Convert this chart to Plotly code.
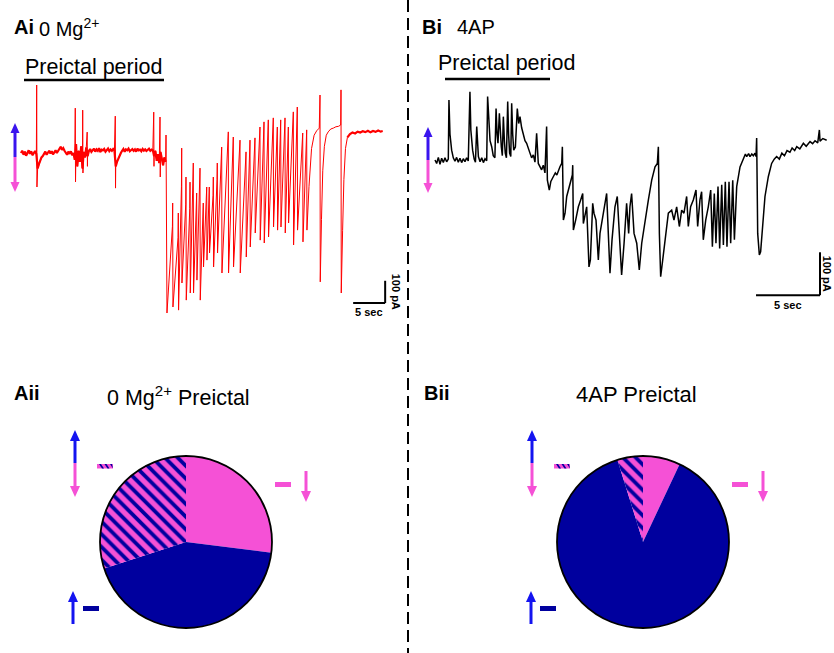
import plotly.graph_objects as go

W, H = 834, 653
def X(p): return p / W
def Y(p): return 1 - p / H

PINK = "#F551D6"
NAVY = "#00009E"
BLUE = "#1414F0"
ABLUE = "#3A14EE"
FONT = "Arial, Liberation Sans, sans-serif"

# ---------------- Ai : 0 Mg2+ recording (time s, current pA) ----------------
a_base_step = 0.2
a_base_pA = [0, 10, -8, 6, -12, 4, 12, -4, 8, -10, 2, 9, -5,
             -70, -50, -32, -20, -14,
             -5, 6, -8, 3, 10, -2, 8, -6, 5, 12, 0, 9,
             18, 28, 14, 22, 10,
             2, -8, 6, -4, 8, -10, 0,
             -30, 40, -60, 10, -40, 30, -70, 5, -20, 25, -15,
             8, 18, 5, 14, 20, 6, 16, 10, 22, 4, 15, 12, 18, 6, 14, 20, 8, 16, 10, 18, 12,
             -60, -40, -25, -10, 0,
             10, 18, 6, 16, 12, 20, 8, 14, 18, 10, 16, 6, 20, 12, 15, 8, 18, 11, 16, 9, 14, 19, 10, 15, 12,
             -15, 10, -35, -5, -45, 5, -25, -55, -20, -40]
a_spk_t = [2.45, 8.48, 9.64, 10.34, 14.73, 20.74, 21.72, 22.66]
a_spk_peak = [306, 202, 193, 94, 166, 184, 162, 81]
a_spk_trough = [-153, -130, -90, -60, -158, -60, -108, -110]

a_ev_t = [22.77, 23.70, 24.58, 25.11, 25.78, 26.41, 26.92, 27.45, 27.97, 28.48, 29.02,
          29.42, 30.05, 30.67, 31.36, 32.39, 33.17, 34.22, 35.16, 35.78, 36.56, 37.34,
          37.97, 38.64, 39.42, 40.05, 40.58, 41.25, 41.77, 42.55, 43.17, 44.02, 44.64]
a_ev_rest = [-40, -330, -380, -150, -230, -250, -180, -280, -200, -300, -240,
             -230, -190, -120, -40, 40, 20, 10, -40, 10, 25, 70,
             95, 100, 110, 80, 105, 110, 80, 130, 150, 60, 70]
a_ev_peak = [-10, -225, -270, 22, -108, -131, -45, -180, -68, -225, -153,
             -153, -108, -45, 27, 95, 72, 58, 5, 58, 68, 117,
             140, 149, 158, 117, 149, 158, 117, 185, 207, 90, 104]
a_ev_trough = [-720, -693, -707, -585, -662, -630, -630, -572, -662, -513, -482,
               -450, -513, -450, -540, -540, -513, -540, -468, -423, -360, -392,
               -405, -378, -333, -347, -333, -360, -315, -414, -347, -400, -347]

a_tail_t = [45.0, 45.4, 45.8, 46.2, 46.6, 46.72, 46.76, 46.95, 47.15, 47.4, 47.7, 48.0,
            48.4, 48.8, 49.2, 49.6, 49.95, 50.0, 50.04, 50.25, 50.45, 50.7, 51.0, 51.4,
            51.8, 52.2, 52.6, 53.0, 53.4, 53.8, 54.2, 54.6, 55.0, 55.4, 55.8, 56.2, 56.5]
a_tail_pA = [-150, 20, 80, 100, 112, 261, -580, -300, -80, 30, 80, 95,
             108, 112, 118, 120, 126, 284, -630, -350, -120, 20, 70, 85,
             92, 88, 96, 92, 98, 94, 100, 93, 99, 95, 101, 96, 99]

# ---------------- Bi : 4AP recording (time s, current pA) ----------------
b_t = [0.00, 0.13, 0.26, 0.39, 0.52, 0.65, 0.78, 0.91, 1.04,
       1.09, 1.17, 1.30, 1.43, 1.56, 1.69, 1.82, 1.95, 2.08, 2.21, 2.34, 2.47, 2.60,
       2.73, 2.80, 2.94, 3.06, 3.16,
       3.26, 3.39, 3.52, 3.65, 3.78, 3.91, 4.04,
       4.11, 4.20, 4.30, 4.43, 4.55, 4.68,
       4.77, 4.85, 4.92,
       5.03, 5.10, 5.18, 5.26,
       5.34, 5.42, 5.49, 5.58,
       5.68, 5.75, 5.83, 5.92,
       5.99, 6.07, 6.15, 6.28,
       6.43, 6.54, 6.64, 6.77, 6.90, 7.03, 7.16, 7.29, 7.42, 7.55, 7.68, 7.81,
       7.94, 8.07, 8.20, 8.33, 8.46, 8.59,
       8.72, 8.78, 8.93, 9.05, 9.24, 9.40, 9.52, 9.64, 9.77, 9.90, 9.95,
       10.03, 10.16, 10.29, 10.55, 10.73, 10.76, 10.81, 10.99, 11.20, 11.38,
       11.54, 11.59, 11.75, 11.85, 12.03, 12.14, 12.32, 12.42, 12.58, 12.76,
       12.89, 13.15, 13.41, 13.54, 13.67, 13.83, 14.06, 14.24, 14.40, 14.58,
       14.77, 14.97, 15.13, 15.23, 15.36, 15.55, 15.76, 15.96, 16.15, 16.41,
       16.67, 16.93, 17.19, 17.37, 17.45, 17.53, 17.63, 17.79, 17.97, 18.23,
       18.49, 18.67, 18.88, 19.09, 19.27, 19.45, 19.66, 19.79, 19.97, 20.18,
       20.39, 20.52, 20.70, 20.83, 20.96, 21.15, 21.35, 21.54, 21.67, 21.82,
       21.95, 22.11, 22.24, 22.40, 22.53, 22.68, 22.81, 22.97, 23.10, 23.26,
       23.39, 23.57, 23.83, 24.09, 24.25, 24.35, 24.50, 24.61, 24.75, 24.87,
       25.00, 25.08, 25.13, 25.21, 25.34, 25.44, 25.60, 25.78, 26.04, 26.30,
       26.50, 26.69, 26.90, 27.10, 27.30, 27.50, 27.73, 27.90, 28.10, 28.26,
       28.50, 28.78, 29.00, 29.30, 29.50, 29.69, 29.90, 30.03, 30.08, 30.30, 30.60]
b_pA = [0, -8, 6, -10, 4, -6, 5, -4, 2,
        140, 60, 23, 5, -3, 6, -5, 4, -6, 3, -4, 5, -2,
        159, 70, 23, 2, -5,
        78, 8, -4, 5, -6, 3, -2,
        148, 80, 45, 31, 10, 5,
        120, 60, 39,
        109, 55, 31, 10,
        101, 45, 16, 5,
        136, 60, 16, 8,
        132, 60, 23, 30,
        120, 85, 101, 75, 62, 45, 39, 25, 16, 5, 12, -5,
        62, -8, -15, -23, -12, -30,
        78, -47, -70, -50, -39, -30, -35, -23, -15, -8, 31,
        -140, -124, -85, -54, -35, -12, -163, -140, -109, -93,
        -78, -148, -124, -109, -249, -233, -101, -124, -140, -233,
        -171, -124, -78, -171, -264, -186, -109, -85, -171, -268,
        -194, -101, -171, -109, -78, -171, -194, -256, -194, -140,
        -93, -47, -16, -8, 31, -171, -272, -233, -186, -124,
        -117, -140, -109, -155, -117, -124, -85, -155, -109, -93,
        -70, -155, -93, -74, -186, -140, -109, -70, -202, -78,
        -194, -62, -206, -58, -198, -51, -202, -51, -194, -47,
        -186, -62, -16, 4, 14, 8, 15, 8, 14, 10,
        16, 8, 51, -171, -221, -214, -155, -85, -39, -8,
        2, 8, 2, 16, 10, 22, 18, 28, 22, 31,
        26, 39, 32, 43, 38, 45, 40, 70, 44, 50, 46]

# ---------------- Pie data (% of cells) ----------------
pie_labels = ["decrease", "increase", "increase & decrease"]
pieA_vals = [27, 43, 30]
pieB_vals = [7.0, 88.2, 4.8]

# scale bars
scale_sec = 5
scale_pA = 100

# ---------- assemble trace A ----------
base = [(i * a_base_step, v) for i, v in enumerate(a_base_pA)]
pre = list(base)
for t, p, tr in zip(a_spk_t, a_spk_peak, a_spk_trough):
    pre += [(t, p), (t + 0.04, tr)]
pre.sort()
ict = [pre[-1]]
for t, r, p, tr in zip(a_ev_t, a_ev_rest, a_ev_peak, a_ev_trough):
    ict += [(t - 0.04, r), (t, p), (t + 0.04, tr)]
ict += list(zip(a_tail_t, a_tail_pA))
plateau = [(t, v) for t, v in zip(a_tail_t, a_tail_pA) if t >= 50.9]

thick_x = [q[0] for q in base] + [None] + [q[0] for q in plateau]
thick_y = [q[1] for q in base] + [None] + [q[1] for q in plateau]
thin = pre + ict[1:]

fig = go.Figure()
fig.add_trace(go.Scatter(x=thick_x, y=thick_y, mode="lines", connectgaps=False,
                         line=dict(color="#FF0000", width=2.2), xaxis="x", yaxis="y", hoverinfo="skip"))
fig.add_trace(go.Scatter(x=[q[0] for q in thin], y=[q[1] for q in thin], mode="lines",
                         line=dict(color="#FF0000", width=1), xaxis="x", yaxis="y", hoverinfo="skip"))
fig.add_trace(go.Scatter(x=b_t, y=b_pA, mode="lines", line=dict(color="#000000", width=1.5),
                         xaxis="x2", yaxis="y2", hoverinfo="skip"))

def pie(vals, x0, x1, y0, y1):
    return go.Pie(values=vals, labels=pie_labels, sort=False, direction="clockwise", rotation=0,
                  textinfo="none", hoverinfo="skip", showlegend=False,
                  marker=dict(colors=[PINK, NAVY, PINK], line=dict(width=0),
                              pattern=dict(shape=["", "", "\\"], fgcolor=NAVY, bgcolor=PINK,
                                           size=9, solidity=0.42)),
                  domain=dict(x=[X(x0), X(x1)], y=[Y(y1), Y(y0)]))

fig.add_trace(pie(pieA_vals, 100, 272, 456, 628))
fig.add_trace(pie(pieB_vals, 557, 729, 456, 628))

shapes = []
annots = []

def line(x0, y0, x1, y1, color="black", width=2, dash=None):
    d = dict(type="line", xref="paper", yref="paper", x0=X(x0), y0=Y(y0), x1=X(x1), y1=Y(y1),
             line=dict(color=color, width=width))
    if dash:
        d["line"]["dash"] = dash
    shapes.append(d)

def rect(x0, y0, x1, y1, color):
    shapes.append(dict(type="rect", xref="paper", yref="paper", x0=X(x0), y0=Y(y0), x1=X(x1), y1=Y(y1),
                       fillcolor=color, line=dict(width=0)))

def poly(points, color):
    path = "M " + " L ".join(f"{X(a):.5f},{Y(b):.5f}" for a, b in points) + " Z"
    shapes.append(dict(type="path", xref="paper", yref="paper", path=path, fillcolor=color,
                       line=dict(width=0)))

def arrow(x, y_tail, y_tip, color, hw=10, hh=11, lw=3):
    s = 1 if y_tip > y_tail else -1
    base_y = y_tip - s * hh
    line(x, y_tail, x, base_y, color=color, width=lw)
    poly([(x - hw / 2, base_y), (x + hw / 2, base_y), (x, y_tip)], color)

def hatch_dash(x0, y0, x1, y1):
    rect(x0, y0, x1, y1, PINK)
    for a in (x0 + 2, x0 + 7.5, x0 + 13):
        poly([(a, y0), (a + 2, y0), (min(a + 5, x1), y1), (min(a + 3, x1), y1)], NAVY)

def text(x, y, s, size=20, anchor="left", bold=False, angle=0, color="black"):
    annots.append(dict(x=X(x), y=Y(y), xref="paper", yref="paper", text=(f"<b>{s}</b>" if bold else s),
                       showarrow=False, xanchor=anchor, yanchor="middle", textangle=angle,
                       font=dict(family=FONT, size=size, color=color)))

# divider
line(408, 0, 408, 653, width=2, dash="12px,6px")

# headings
text(12, 27, "Ai", bold=True)
text(37, 28, "0 Mg<sup>2+</sup>")
text(23, 67, "Preictal period", size=21.5)
line(24, 80, 164, 80, width=2.5)
text(420, 27, "Bi", bold=True)
text(455, 27, "4AP")
text(436, 63, "Preictal period", size=21.5)
line(445, 79, 550, 79, width=2.5)

text(12, 393, "Aii", bold=True)
text(105, 396, "0 Mg<sup>2+</sup> Preictal", size=21.5)
text(422, 393, "Bii", bold=True)
text(636, 394, "4AP Preictal", size=22, anchor="center")

# trace arrows
arrow(15, 157, 123, ABLUE, hw=9, hh=10)
arrow(15, 157, 192, PINK, hw=9, hh=10)
arrow(428, 160, 127, ABLUE, hw=9, hh=10)
arrow(428, 160, 193, PINK, hw=9, hh=10)

# pie outlines
for cx in (186, 643):
    shapes.append(dict(type="circle", xref="paper", yref="paper", x0=X(cx - 86), x1=X(cx + 86),
                       y0=Y(628), y1=Y(456), line=dict(color="black", width=1.8)))

# pie keys
for (dx, hx0, pk0, pax, bux, nd0) in [(75, 97, 275, 306, 73, 83), (532, 554, 732, 763, 531, 540)]:
    arrow(dx, 463, 430, BLUE)
    arrow(dx, 463, 497, PINK)
    hatch_dash(hx0, 464, hx0 + 16, 468.5)
    rect(pk0, 482, pk0 + 16, 487, PINK)
    arrow(pax, 471, 502, PINK)
    arrow(bux, 624, 591, BLUE)
    rect(nd0, 606, nd0 + 16, 611, NAVY)

# scale bars (data coordinates)
def scalebar(xa, ya, t1, i0):
    shapes.append(dict(type="line", xref=xa, yref=ya, x0=t1 - scale_sec, x1=t1, y0=i0, y1=i0,
                       line=dict(color="black", width=2)))
    shapes.append(dict(type="line", xref=xa, yref=ya, x0=t1, x1=t1, y0=i0, y1=i0 + scale_pA,
                       line=dict(color="black", width=2)))

scalebar("x", "y", 56.9, -675)
scalebar("x2", "y2", 30.08, -315)
sfont = dict(family=FONT, size=11, color="black")
annots.append(dict(x=56.9 - scale_sec / 2, y=-675, xref="x", yref="y", text="<b>5 sec</b>", showarrow=False,
                   yanchor="top", yshift=-1, font=sfont))
annots.append(dict(x=56.9, y=-675 + scale_pA / 2, xref="x", yref="y", text="<b>100 pA</b>", showarrow=False,
                   textangle=90, xshift=11, font=sfont))
annots.append(dict(x=30.08 - scale_sec / 2, y=-315, xref="x2", yref="y2", text="<b>5 sec</b>", showarrow=False,
                   yanchor="top", yshift=-2, font=sfont))
annots.append(dict(x=30.08, y=-315 + scale_pA / 2, xref="x2", yref="y2", text="<b>100 pA</b>", showarrow=False,
                   textangle=90, xshift=7, font=sfont))

ax = dict(visible=False, showgrid=False, zeroline=False, fixedrange=True)
fig.update_layout(
    width=W, height=H, margin=dict(l=0, r=0, t=0, b=0),
    paper_bgcolor="white", plot_bgcolor="rgba(0,0,0,0)", showlegend=False,
    xaxis=dict(ax, domain=[0, 0.5], range=[-21 / 6.4, 396 / 6.4]),
    yaxis=dict(ax, domain=[Y(330), Y(70)], range=[-796.5, 373.5]),
    xaxis2=dict(ax, domain=[0.5, 1], range=[-18 / 12.8, 399 / 12.8]),
    yaxis2=dict(ax, domain=[Y(330), Y(70)], range=[-396.1, 209.7], anchor="x2"),
    shapes=shapes, annotations=annots,
)
fig.write_html("out.html")
